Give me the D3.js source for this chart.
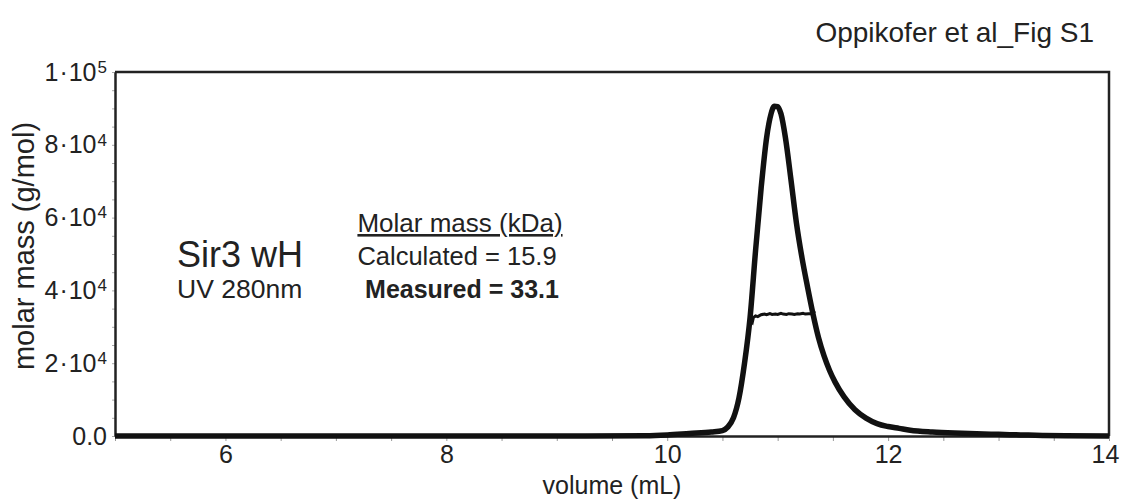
<!DOCTYPE html>
<html>
<head>
<meta charset="utf-8">
<style>
  body { margin: 0; background: #fff; }
  text { font-family: "Liberation Sans", Arial, sans-serif; fill: #222; }
  .tick text { font-size: 25px; }
</style>
<script src="https://cdn.jsdelivr.net/npm/d3@7"></script>
</head>
<body>
<script>
// UV 280nm trace, scaled onto the molar mass axis
var uvVolume = [5.0, 6.0, 7.0, 8.0, 9.0, 9.8, 10.0, 10.2, 10.4, 10.5, 10.55, 10.6, 10.65, 10.7, 10.75,
                10.8, 10.85, 10.9, 10.94, 10.97, 11.0, 11.03, 11.07, 11.12, 11.17, 11.22, 11.27, 11.32,
                11.37, 11.42, 11.47, 11.52, 11.6, 11.7, 11.8, 11.9, 12.0, 12.1, 12.2, 12.4, 12.6, 12.8, 13.0,
                13.2, 13.4, 13.6, 14.0];
var uvValue = [0, 0, 0, 0, 0, 100, 300, 700, 1100, 1500, 2500, 5000, 10500, 20000, 32500,
               51000, 68000, 82000, 88500, 90600, 90500, 88500, 82000, 70500, 58500, 49000, 41000, 33500,
               27000, 22000, 18000, 14800, 10800, 7200, 4900, 3400, 2600, 2100, 1600, 1100, 800, 600, 450,
               300, 150, 50, 0];

// molar mass across the peak (g/mol)
var mmVolume = [10.75, 10.76, 10.77, 10.78, 10.8, 10.82, 10.85, 10.88, 10.9, 10.93, 10.95, 10.98,
                11.0, 11.03, 11.05, 11.08, 11.1, 11.13, 11.15, 11.18, 11.2, 11.23, 11.25, 11.28,
                11.3, 11.32, 11.34];
var mmValue = [32800, 31500, 31200, 32500, 33000, 32800, 33300, 33500, 33300, 33600, 33400, 33500,
               33400, 33700, 33500, 33400, 33600, 33500, 33400, 33600, 33500, 33700, 33500, 33600,
               33600, 34000, 34300];

var xTicks = [6, 8, 10, 12, 14];
var yTicks = [0, 20000, 40000, 60000, 80000, 100000];
var yTickLabels = ["0.0", "2·10|4", "4·10|4", "6·10|4", "8·10|4", "1·10|5"];

var width = 1123, height = 500;
var margin = {top: 72, right: 14, bottom: 64, left: 115};

var svg = d3.select("body").append("svg")
    .attr("width", width)
    .attr("height", height);

var x = d3.scaleLinear().domain([5, 14]).range([margin.left, width - margin.right]);
var y = d3.scaleLinear().domain([0, 100000]).range([height - margin.bottom, margin.top]);

// frame (top and right edges)
svg.append("path")
    .attr("d", "M" + x(5) + "," + y(100000) + "H" + x(14) + "V" + y(0))
    .attr("fill", "none")
    .attr("stroke", "#222")
    .attr("stroke-width", 2.5);

// minor ticks
svg.append("g")
    .attr("transform", "translate(0," + y(0) + ")")
    .call(d3.axisBottom(x).tickValues(d3.range(5, 14.01, 0.5)).tickSize(5).tickFormat(""))
    .call(function(g) { g.select(".domain").remove(); })
    .selectAll("line").attr("stroke", "#999");

svg.append("g")
    .attr("transform", "translate(" + x(5) + ",0)")
    .call(d3.axisLeft(y).tickValues(d3.range(0, 100001, 5000)).tickSize(3).tickFormat(""))
    .call(function(g) { g.select(".domain").remove(); })
    .selectAll("line").attr("stroke", "#aaa");

// x axis
var xAxis = svg.append("g")
    .attr("transform", "translate(0," + y(0) + ")")
    .call(d3.axisBottom(x).tickValues(xTicks).tickSize(0).tickPadding(9));
xAxis.select(".domain").attr("stroke", "#222").attr("stroke-width", 2.5);
xAxis.selectAll(".tick text").attr("fill", "#222");
// keep the last label inside the window
xAxis.selectAll(".tick text").filter(function(d) { return d === 14; }).attr("dx", -4);

// y axis
var yAxis = svg.append("g")
    .attr("transform", "translate(" + x(5) + ",0)")
    .call(d3.axisLeft(y).tickValues(yTicks).tickSize(0).tickPadding(8).tickFormat(""));
yAxis.select(".domain").attr("stroke", "#222").attr("stroke-width", 2.5);
yAxis.selectAll(".tick text")
    .attr("fill", "#222")
    .each(function(d, i) {
      var parts = yTickLabels[i].split("|");
      var t = d3.select(this);
      if (!parts[1]) { t.text(parts[0]); return; }
      var base = parts[0].split("·");
      t.append("tspan").text(base[0]);
      t.append("tspan").attr("dx", 1).text("·");
      t.append("tspan").attr("dx", 1).text(base[1]);
      t.append("tspan")
          .attr("dy", "-0.45em")
          .attr("dx", 1)
          .style("font-size", "17px")
          .text(parts[1]);
    });

// UV trace
svg.append("path")
    .datum(d3.zip(uvVolume, uvValue))
    .attr("fill", "none")
    .attr("stroke", "#111")
    .attr("stroke-width", 5.5)
    .attr("stroke-linejoin", "round")
    .attr("d", d3.line()
        .x(function(d) { return x(d[0]); })
        .y(function(d) { return y(d[1]); })
        .curve(d3.curveMonotoneX));

// molar mass trace
svg.append("path")
    .datum(d3.zip(mmVolume, mmValue))
    .attr("fill", "none")
    .attr("stroke", "#111")
    .attr("stroke-width", 3)
    .attr("d", d3.line()
        .x(function(d) { return x(d[0]); })
        .y(function(d) { return y(d[1]); }));

// axis titles
svg.append("text")
    .attr("x", (x(5) + x(14)) / 2)
    .attr("y", 494)
    .attr("text-anchor", "middle")
    .style("font-size", "25px")
    .text("volume (mL)");

svg.append("text")
    .attr("transform", "translate(34," + ((y(0) + y(100000)) / 2 - 8) + ") rotate(-90)")
    .attr("text-anchor", "middle")
    .style("font-size", "29px")
    .text("molar mass (g/mol)");

// figure label
svg.append("text")
    .attr("x", 1094)
    .attr("y", 42)
    .attr("text-anchor", "end")
    .style("font-size", "28px")
    .text("Oppikofer et al_Fig S1");

// annotations
svg.append("text")
    .attr("x", 177).attr("y", 267)
    .style("font-size", "36px")
    .text("Sir3 wH");

svg.append("text")
    .attr("x", 177).attr("y", 298)
    .style("font-size", "26.5px")
    .text("UV 280nm");

svg.append("text")
    .attr("x", 460).attr("y", 232)
    .attr("text-anchor", "middle")
    .attr("text-decoration", "underline")
    .style("font-size", "26px")
    .text("Molar mass (kDa)");

svg.append("text")
    .attr("x", 457).attr("y", 265)
    .attr("text-anchor", "middle")
    .style("font-size", "25.5px")
    .text("Calculated = 15.9");

svg.append("text")
    .attr("x", 462).attr("y", 298)
    .attr("text-anchor", "middle")
    .style("font-size", "25px")
    .style("font-weight", "bold")
    .text("Measured = 33.1");
</script>
</body>
</html>
